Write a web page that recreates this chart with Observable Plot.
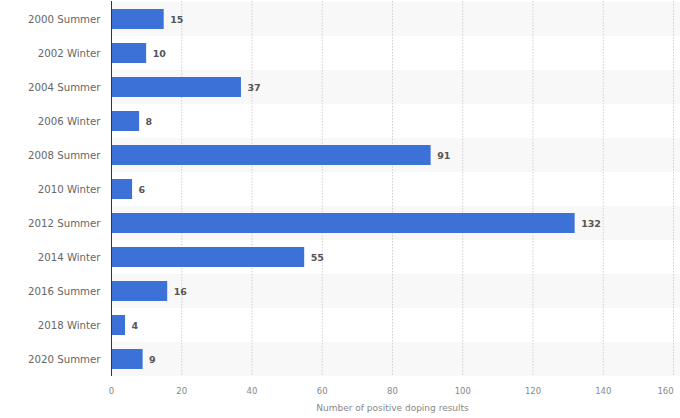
<!DOCTYPE html>
<html><head><meta charset="utf-8">
<script src="https://cdn.jsdelivr.net/npm/d3@7"></script>
<script src="https://cdn.jsdelivr.net/npm/@observablehq/plot@0.6"></script>
<style>body{margin:0;background:#fff;} svg{display:block;}</style>
</head><body><div id="chart"></div>
<script>
const games = ["2000 Summer","2002 Winter","2004 Summer","2006 Winter","2008 Summer","2010 Winter","2012 Summer","2014 Winter","2016 Summer","2018 Winter","2020 Summer"];
const positives = [15,10,37,8,91,6,132,55,16,4,9];
const xTicks = [0,20,40,60,80,100,120,140,160];

const data = games.map((g,i)=>({game:g, value:positives[i], idx:i}));
const shaded = data.filter(d=>d.idx%2===0);
const lastTick = xTicks[xTicks.length-1];

const chart = Plot.plot({
  width: 680, height: 418,
  marginLeft: 111, marginRight: 7, marginTop: 1, marginBottom: 42,
  style: {fontFamily: "'DejaVu Sans', sans-serif", background: "#fff"},
  x: {domain: [0,lastTick], ticks: xTicks},
  y: {domain: games, padding: 0, label: null},
  marks: [
    Plot.barX(shaded, {y: "game", x1: 0, x2: lastTick, fill: "#f8f8f8", insetRight: -7}),
    Plot.gridX(xTicks.filter(t=>t>0), {stroke: "#cfcfcf", strokeOpacity: 1, strokeDasharray: "1.5,1.5"}),
    Plot.barX(data, {y: "game", x: "value", fill: "#3c72d8", insetTop: 7, insetBottom: 7}),
    Plot.text(data, {y: "game", x: "value", text: d=>String(d.value), dx: 6, textAnchor: "start", fill: "#555", fontWeight: "bold", fontSize: 9.5}),
    Plot.axisX({ticks: xTicks.slice(0,-1), tickSize: 0, tickPadding: 11, fill: "#888", fontSize: 8.5, label: "Number of positive doping results", labelAnchor: "center", labelArrow: "none", labelOffset: 34}),
    Plot.axisX({ticks: [lastTick], tickSize: 0, tickPadding: 11, fill: "#888", fontSize: 8.5, dx: -8, label: null}),
    Plot.axisY({tickSize: 0, tickPadding: 11, fill: "#666", fontSize: 10.2}),
    Plot.ruleX([0], {stroke: "#333", strokeWidth: 1})
  ]
});
chart.querySelectorAll("[aria-label='x-axis label']").forEach(e=>e.setAttribute("font-size", "9"));
document.getElementById("chart").append(chart);
</script></body></html>
